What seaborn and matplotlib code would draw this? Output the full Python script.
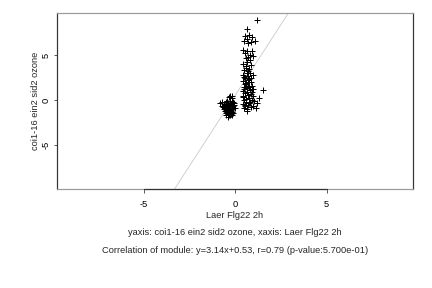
import numpy as np
import pandas as pd
import matplotlib
matplotlib.use("Agg")
import matplotlib.pyplot as plt
import seaborn as sns

# ---- data ----
cluster_a_x = [-0.30, -0.20, -0.35, -0.15, -0.84, -0.70, -0.60, -0.50, -0.45, -0.40,
               -0.30, -0.25, -0.10, -0.05, 0.00, -0.55, -0.50, -0.45, -0.40, -0.35,
               -0.30, -0.25, -0.20, -0.15, -0.10, -0.60, -0.55, -0.50, -0.45, -0.40,
               -0.35, -0.30, -0.25, -0.20, -0.40, -0.35, -0.50, -0.65, -0.30, -0.15,
               -0.05, -0.70, -0.20, -0.10, -0.45, -0.38, -0.28, -0.42, -0.33, -0.22]
cluster_a_y = [0.50, 0.40, 0.30, 0.20, -0.30, -0.20, -0.40, -0.20, -0.50, -0.30,
               -0.10, -0.40, -0.20, -0.50, -0.90, -0.70, -0.90, -1.10, -0.80, -1.00,
               -0.70, -1.20, -0.90, -1.00, -0.70, -1.00, -1.20, -1.40, -1.30, -1.50,
               -1.30, -1.60, -1.50, -1.30, -1.85, -1.70, -1.60, -0.80, -0.40, -0.60,
               -0.30, -0.60, -1.70, -1.40, -0.05, -1.15, -0.95, -0.65, -0.55, -1.10]

cluster_b_x = [1.17, 0.66, 0.55, 0.75, 0.90, 0.50, 0.65, 0.85, 1.08, 0.70,
               0.40, 0.55, 0.65, 0.80, 0.90, 0.70, 1.00, 0.60, 0.45, 0.60,
               0.75, 0.50, 0.85, 0.65, 0.40, 0.55, 0.70, 0.85, 1.00, 0.45,
               0.60, 0.75, 0.90, 0.50, 0.65, 0.80, 0.95, 0.40, 0.55, 0.70,
               0.85, 1.53, 1.31, 0.45, 0.60, 0.75, 0.90, 1.05, 1.20, 0.40,
               0.55, 0.70, 0.85, 1.00, 1.15, 0.50, 0.65, 0.62, 0.80, 0.95,
               0.50, 0.58, 0.72, 0.48, 0.82, 0.68, 0.52, 0.78, 0.62, 0.92,
               0.44, 0.57, 0.73, 0.88, 0.63, 0.47, 0.80, 0.69, 0.54, 0.76]
cluster_b_y = [8.90, 7.90, 7.10, 7.20, 7.00, 6.60, 6.80, 6.50, 6.60, 6.30,
               5.60, 5.20, 5.50, 5.00, 5.40, 4.80, 4.90, 4.70, 4.00, 3.80,
               3.50, 3.30, 3.90, 3.00, 2.80, 2.50, 2.70, 2.40, 2.80, 2.10,
               1.90, 2.00, 1.60, 1.50, 1.30, 1.10, 1.20, 1.00, 0.80, 0.60,
               0.70, 1.10, 0.26, 0.30, 0.10, 0.20, 0.00, -0.10, -0.30, -0.40,
               -0.60, -0.50, -0.80, -0.60, -0.90, -0.90, -1.00, -1.25, -0.20, 0.40,
               0.00, 3.60, 3.20, 2.60, 3.00, 2.20, 1.80, 1.40, 0.90, 0.90,
               0.50, -0.20, -0.30, 2.00, 4.20, 1.20, 4.40, 1.60, -0.50, 2.30]

x_values = cluster_a_x + cluster_b_x
y_values = cluster_a_y + cluster_b_y

slope = 3.14
intercept = 0.53

x_ticks = [-5, 0, 5]
y_ticks = [-5, 0, 5]
x_label = "Laer Flg22 2h"
y_label = "coi1-16 ein2 sid2 ozone"
caption1 = "yaxis: coi1-16 ein2 sid2 ozone, xaxis: Laer Flg22 2h"
caption2 = "Correlation of module: y=3.14x+0.53, r=0.79 (p-value:5.700e-01)"

# ---- plot ----
sns.set_style("white")
plt.rcParams["font.family"] = ["Liberation Sans", "DejaVu Sans"]

fs = 9.2
fig = plt.figure(figsize=(6, 4), dpi=72)
ax = fig.add_axes([57 / 432, 1 - 189 / 288, (413 - 57) / 432, (189 - 13) / 288])

xlim = (-9.74, 9.72)
ylim = (-9.87, 9.67)
ax.set_xlim(*xlim)
ax.set_ylim(*ylim)

lx = np.array(xlim)
ly = slope * lx + intercept
ax.plot(lx, ly, color="#c8c8c8", lw=0.8, zorder=1)

df = pd.DataFrame({"x": x_values, "y": y_values})
sns.scatterplot(data=df, x="x", y="y", marker="+", color="black", s=28,
                linewidth=1.0, ax=ax, zorder=2)

ax.set_xticks(x_ticks)
ax.set_yticks(y_ticks)
ax.set_xticklabels([str(t) for t in x_ticks])
ax.set_yticklabels([str(t) for t in y_ticks])
ax.tick_params(axis="both", which="both", direction="out", length=3.5,
               width=0.8, color="#333333", labelsize=fs, labelcolor="black",
               bottom=True, left=True)
ax.tick_params(axis="x", pad=7.5)
ax.tick_params(axis="y", pad=3)
for lab in ax.get_yticklabels():
    lab.set_rotation(90)
    lab.set_va("center")

ax.set_xlabel("")
ax.set_ylabel(y_label, fontsize=fs, labelpad=2)

for side in ["top", "bottom"]:
    ax.spines[side].set_color("#9a9a9a")
    ax.spines[side].set_linewidth(1.2)
for side in ["left", "right"]:
    ax.spines[side].set_color("#333333")
    ax.spines[side].set_linewidth(1.2)
# darker axis segment between outer ticks on the bottom
ax.plot([x_ticks[0], x_ticks[-1]], [ylim[0], ylim[0]], color="#333333",
        lw=1.2, clip_on=False, zorder=5)

cx = (57 + 413) / 2 / 432
fig.text(cx, 1 - 215.7 / 288, x_label, ha="center", va="center", fontsize=fs)
fig.text(cx, 1 - 232.7 / 288, caption1, ha="center", va="center", fontsize=fs)
fig.text(cx, 1 - 250.7 / 288, caption2, ha="center", va="center", fontsize=fs)

fig.savefig("out.png", dpi=72, facecolor="white")
